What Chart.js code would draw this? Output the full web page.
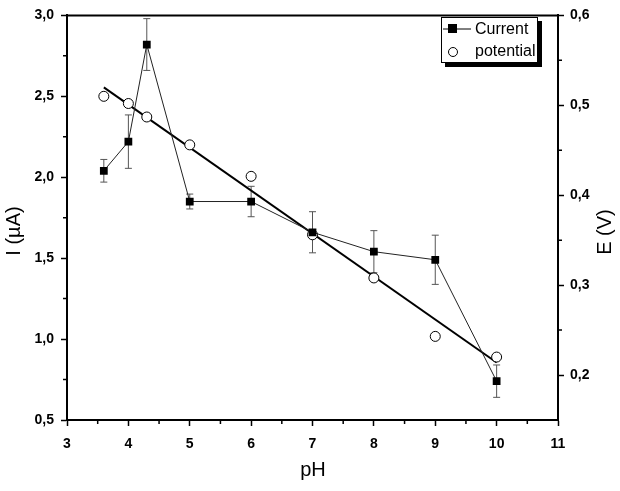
<!DOCTYPE html>
<html>
<head>
<meta charset="utf-8">
<script src="https://cdn.jsdelivr.net/npm/chart.js@4"></script>
<style>
    html, body { margin: 0; padding: 0; background: #fff; }
    canvas { display: block; }
</style>
</head>
<body>
<canvas id="phChart" width="620" height="491"></canvas>
<script>
// data
const phValues = [3.6, 4, 4.3, 5, 6, 7, 8, 9, 10];
const currentValues = [2.04, 2.22, 2.82, 1.85, 1.85, 1.66, 1.54, 1.49, 0.74];
const currentErrors = [0.07, 0.165, 0.16, 0.046, 0.094, 0.127, 0.13, 0.152, 0.1];
const potentialValues = [0.510, 0.502, 0.487, 0.456, 0.421, 0.356, 0.308, 0.243, 0.220];
const fitPh = [3.6, 10];
const fitValues = [0.520, 0.214];

const xTicks = [3, 4, 5, 6, 7, 8, 9, 10, 11];
const xMinor = [3.5, 4.5, 5.5, 6.5, 7.5, 8.5, 9.5, 10.5];
const leftTicks = [0.5, 1.0, 1.5, 2.0, 2.5, 3.0];
const leftMinor = [0.75, 1.25, 1.75, 2.25, 2.75];
const rightTicks = [0.2, 0.3, 0.4, 0.5, 0.6];
const rightMinor = [0.25, 0.35, 0.45, 0.55];

const FONT = 'Liberation Sans, Arial, sans-serif';

function comma(v) {
    return v.toFixed(1).replace('.', ',');
}

function setTicks(list) {
    return scale => { scale.ticks = list.map(v => ({ value: v })); };
}

// error bars go under the markers
const errorBars = {
    id: 'errorBars',
    beforeDatasetsDraw(chart) {
        const ctx = chart.ctx;
        const xs = chart.scales.x;
        const ys = chart.scales.y;
        ctx.save();
        ctx.strokeStyle = '#555';
        ctx.lineWidth = 1;
        phValues.forEach((ph, i) => {
            const px = xs.getPixelForValue(ph);
            const top = ys.getPixelForValue(currentValues[i] + currentErrors[i]);
            const bot = ys.getPixelForValue(currentValues[i] - currentErrors[i]);
            ctx.beginPath();
            ctx.moveTo(px, top);
            ctx.lineTo(px, bot);
            ctx.moveTo(px - 3.5, top);
            ctx.lineTo(px + 3.5, top);
            ctx.moveTo(px - 3.5, bot);
            ctx.lineTo(px + 3.5, bot);
            ctx.stroke();
        });
        ctx.restore();
    }
};

// frame top line, minor ticks, axis titles, legend
const decorations = {
    id: 'decorations',
    afterDraw(chart) {
        const ctx = chart.ctx;
        const area = chart.chartArea;
        const xs = chart.scales.x;
        const ys = chart.scales.y;
        const y1 = chart.scales.y1;
        ctx.save();

        ctx.strokeStyle = '#000';
        ctx.lineWidth = 2;
        ctx.beginPath();
        ctx.moveTo(area.left - 1, area.top);
        ctx.lineTo(area.right + 1, area.top);
        ctx.stroke();

        ctx.lineWidth = 1.5;
        ctx.beginPath();
        xMinor.forEach(v => {
            const p = xs.getPixelForValue(v);
            ctx.moveTo(p, area.bottom);
            ctx.lineTo(p, area.bottom + 4);
        });
        leftMinor.forEach(v => {
            const p = ys.getPixelForValue(v);
            ctx.moveTo(area.left, p);
            ctx.lineTo(area.left - 4, p);
        });
        rightMinor.forEach(v => {
            const p = y1.getPixelForValue(v);
            ctx.moveTo(area.right, p);
            ctx.lineTo(area.right + 4, p);
        });
        ctx.stroke();

        // axis titles
        ctx.fillStyle = '#000';
        ctx.font = '20px ' + FONT;
        ctx.textAlign = 'center';
        ctx.textBaseline = 'middle';
        ctx.fillText('pH', 313, 470);
        ctx.save();
        ctx.translate(14, 231);
        ctx.rotate(-Math.PI / 2);
        ctx.fillText('I (\u00b5A)', 0, 0);
        ctx.restore();
        ctx.save();
        ctx.translate(605, 232);
        ctx.rotate(-Math.PI / 2);
        ctx.fillText('E (V)', 0, 0);
        ctx.restore();

        // legend box with shadow
        ctx.fillStyle = '#000';
        ctx.fillRect(445, 21, 97, 46);
        ctx.fillStyle = '#fff';
        ctx.fillRect(441, 17, 97, 46);
        ctx.strokeStyle = '#000';
        ctx.lineWidth = 1;
        ctx.strokeRect(441.5, 17.5, 96, 45);

        ctx.beginPath();
        ctx.moveTo(443, 29);
        ctx.lineTo(471, 29);
        ctx.stroke();
        ctx.fillStyle = '#000';
        ctx.fillRect(448, 24, 9, 9);
        ctx.beginPath();
        ctx.arc(453, 52, 4.5, 0, Math.PI * 2);
        ctx.fillStyle = '#fff';
        ctx.fill();
        ctx.stroke();

        ctx.fillStyle = '#000';
        ctx.font = '16px ' + FONT;
        ctx.textAlign = 'left';
        ctx.fillText('Current', 475, 30);
        ctx.fillText('potential', 475, 52);

        ctx.restore();
    }
};

const tickFont = { family: FONT, size: 14, weight: 'bold' };
const axisGrid = { drawOnChartArea: false, tickLength: 6, tickColor: '#000', tickWidth: 1.5 };

const ctx = document.getElementById('phChart').getContext('2d');

new Chart(ctx, {
    type: 'scatter',
    data: {
        datasets: [
            {
                label: 'Current',
                type: 'line',
                yAxisID: 'y',
                data: phValues.map((ph, i) => ({ x: ph, y: currentValues[i] })),
                borderColor: '#222',
                borderWidth: 1,
                pointStyle: 'rect',
                pointRadius: 5.5,
                pointBackgroundColor: '#000',
                pointBorderColor: '#000',
                pointBorderWidth: 0,
                fill: false,
                tension: 0
            },
            {
                label: 'potential',
                yAxisID: 'y1',
                data: phValues.map((ph, i) => ({ x: ph, y: potentialValues[i] })),
                showLine: false,
                pointStyle: 'circle',
                pointRadius: 5,
                pointBackgroundColor: '#fff',
                pointBorderColor: '#000',
                pointBorderWidth: 1
            },
            {
                label: 'fit',
                type: 'line',
                yAxisID: 'y1',
                data: fitPh.map((ph, i) => ({ x: ph, y: fitValues[i] })),
                borderColor: '#000',
                borderWidth: 2,
                pointRadius: 0,
                fill: false
            }
        ]
    },
    options: {
        responsive: false,
        animation: false,
        events: [],
        layout: { padding: { top: 10, left: 0, right: 0, bottom: 0 } },
        plugins: {
            legend: { display: false },
            tooltip: { enabled: false }
        },
        scales: {
            x: {
                type: 'linear',
                min: 3,
                max: 11,
                afterBuildTicks: setTicks(xTicks),
                afterFit: scale => { scale.height = 71; },
                grid: axisGrid,
                border: { color: '#000', width: 2 },
                ticks: {
                    color: '#000',
                    padding: 10,
                    maxRotation: 0,
                    font: tickFont,
                    callback: v => String(v)
                }
            },
            y: {
                type: 'linear',
                position: 'left',
                min: 0.5,
                max: 3,
                afterBuildTicks: setTicks(leftTicks),
                afterFit: scale => { scale.width = 67; },
                grid: axisGrid,
                border: { color: '#000', width: 2 },
                ticks: {
                    color: '#000',
                    padding: 7,
                    font: tickFont,
                    callback: v => comma(v)
                }
            },
            y1: {
                type: 'linear',
                position: 'right',
                min: 0.15,
                max: 0.6,
                afterBuildTicks: setTicks(rightTicks),
                afterFit: scale => { scale.width = 62; },
                grid: axisGrid,
                border: { color: '#000', width: 2 },
                ticks: {
                    color: '#000',
                    padding: 6,
                    font: tickFont,
                    callback: v => comma(v)
                }
            }
        }
    },
    plugins: [errorBars, decorations]
});
</script>
</body>
</html>
